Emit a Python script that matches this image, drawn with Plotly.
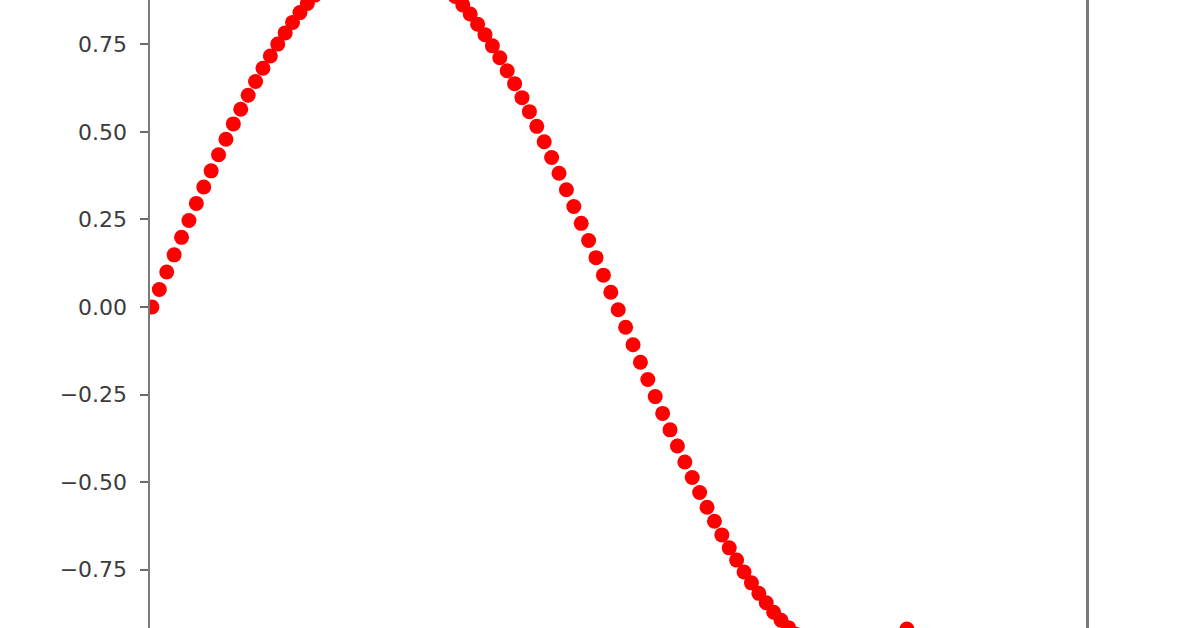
import plotly.graph_objects as go

# x values (radians-like units)
x_vals = [0.00, 0.05, 0.10, 0.15, 0.20, 0.25, 0.30, 0.35, 0.40, 0.45,
          0.50, 0.55, 0.60, 0.65, 0.70, 0.75, 0.80, 0.85, 0.90, 0.95,
          1.00, 1.05, 1.10, 1.15, 1.20, 1.25, 1.30, 1.35, 1.40, 1.45,
          1.50, 1.55, 1.60, 1.65, 1.70, 1.75, 1.80, 1.85, 1.90, 1.95,
          2.00, 2.05, 2.10, 2.15, 2.20, 2.25, 2.30, 2.35, 2.40, 2.45,
          2.50, 2.55, 2.60, 2.65, 2.70, 2.75, 2.80, 2.85, 2.90, 2.95,
          3.00, 3.05, 3.10, 3.15, 3.20, 3.25, 3.30, 3.35, 3.40, 3.45,
          3.50, 3.55, 3.60, 3.65, 3.70, 3.75, 3.80, 3.85, 3.90, 3.95,
          4.00, 4.05, 4.10, 4.15, 4.20, 4.25, 4.30, 4.35, 4.40, 4.45,
          4.50, 4.55, 4.60, 4.65, 4.70, 4.75, 4.80, 4.85, 4.90, 4.95,
          5.00, 5.05, 5.10]

y_vals = [0.000, 0.050, 0.100, 0.149, 0.199, 0.247, 0.296, 0.343, 0.389, 0.435,
          0.479, 0.523, 0.565, 0.605, 0.644, 0.682, 0.717, 0.751, 0.783, 0.813,
          0.841, 0.867, 0.891, 0.913, 0.932, 0.949, 0.964, 0.976, 0.985, 0.993,
          0.997, 1.000, 1.000, 0.997, 0.992, 0.984, 0.974, 0.961, 0.946, 0.929,
          0.909, 0.887, 0.863, 0.837, 0.808, 0.778, 0.746, 0.712, 0.675, 0.638,
          0.598, 0.558, 0.516, 0.472, 0.427, 0.382, 0.335, 0.287, 0.239, 0.190,
          0.141, 0.091, 0.042, -0.008, -0.058, -0.108, -0.158, -0.207, -0.256, -0.304,
          -0.351, -0.397, -0.443, -0.487, -0.530, -0.572, -0.612, -0.651, -0.688, -0.723,
          -0.757, -0.788, -0.818, -0.845, -0.872, -0.895, -0.916, -0.935, -0.952, -0.966,
          -0.978, -0.987, -0.994, -0.998, -1.000, -0.999, -0.996, -0.991, -0.982, -0.972,
          -0.959, -0.944, -0.920]

y_tick_vals = [-0.75, -0.50, -0.25, 0.00, 0.25, 0.50, 0.75]
y_tick_text = ["\u22120.75", "\u22120.50", "\u22120.25", "0.00", "0.25", "0.50", "0.75"]

fig = go.Figure()
fig.add_trace(go.Scatter(
    x=x_vals, y=y_vals, mode="markers",
    marker=dict(color="#ff0000", size=15, line=dict(width=0)),
    showlegend=False, hoverinfo="skip", cliponaxis=True,
))

fig.update_layout(
    width=1200, height=628,
    margin=dict(l=150, r=114, t=0, b=0, pad=0),
    paper_bgcolor="white", plot_bgcolor="white",
    font=dict(family="DejaVu Sans", size=22, color="#3c3c3c"),
)
fig.update_xaxes(
    range=[-0.013, 6.31], showgrid=False, zeroline=False,
    showline=False, showticklabels=False, ticks="",
)
fig.update_yaxes(
    range=[-0.917, 0.877], showgrid=False, zeroline=False,
    showline=True, linecolor="#7a7a7a", linewidth=2.5, mirror=True,
    tickmode="array", tickvals=y_tick_vals, ticktext=y_tick_text,
    ticks="outside", ticklen=8, tickwidth=2, tickcolor="#6a6a6a",
    ticklabelstandoff=8,
)

fig.write_html(
    "out.html",
    config={"displayModeBar": False, "staticPlot": True},
    post_script="document.body.style.margin='0';document.body.style.padding='0';",
)
